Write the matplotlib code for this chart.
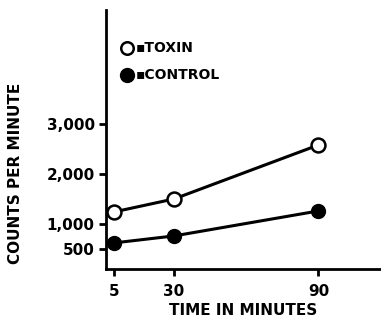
import matplotlib
matplotlib.use("Agg")
from matplotlib import pyplot as plt

# data
minutes = [5, 30, 90]
toxin = [1240, 1500, 2580]
control = [620, 760, 1260]
yticks = [500, 1000, 2000, 3000]
ytick_labels = ["500", "1,000", "2,000", "3,000"]

plt.rcParams["font.family"] = "DejaVu Sans"
plt.rcParams["font.weight"] = "bold"

fig = plt.figure(figsize=(3.81, 3.24), dpi=100)
ax = fig.add_axes([0.278, 0.170, 0.722, 0.799])

ax.plot(minutes, toxin, color="black", lw=2.2, marker="o", ms=10,
        mfc="white", mec="black", mew=1.8)
ax.plot(minutes, control, color="black", lw=2.2, marker="o", ms=10,
        mfc="black", mec="black")

ax.set_xlim(1.7, 116)
ax.set_ylim(100, 5280)
ax.set_xticks(minutes)
ax.set_xticklabels([str(m) for m in minutes], fontsize=11, fontweight="bold")
ax.set_yticks(yticks)
ax.set_yticklabels(ytick_labels, fontsize=11, fontweight="bold")
ax.tick_params(axis="both", direction="out", length=5, width=2)
ax.tick_params(axis="x", pad=6)
ax.tick_params(axis="y", pad=3)

for side in ["top", "right"]:
    ax.spines[side].set_visible(False)
for side in ["left", "bottom"]:
    ax.spines[side].set_linewidth(2)

ax.set_xlabel("TIME IN MINUTES", fontsize=11, fontweight="bold", labelpad=3)
ax.set_ylabel("COUNTS PER MINUTE", fontsize=11, fontweight="bold")
ax.yaxis.set_label_coords(-0.30, 0.37)

# hand-drawn style legend
ax.plot([0.075], [0.855], transform=ax.transAxes, marker="o", ms=9,
        mfc="white", mec="black", mew=1.8, ls="none", clip_on=False)
ax.text(0.11, 0.855, "\u25aaTOXIN", transform=ax.transAxes, fontsize=10,
        fontweight="bold", va="center", ha="left")
ax.plot([0.075], [0.75], transform=ax.transAxes, marker="o", ms=10,
        mfc="black", mec="black", ls="none", clip_on=False)
ax.text(0.11, 0.75, "\u25aaCONTROL", transform=ax.transAxes, fontsize=10,
        fontweight="bold", va="center", ha="left")

plt.savefig("out.png", dpi=100, facecolor="w")
